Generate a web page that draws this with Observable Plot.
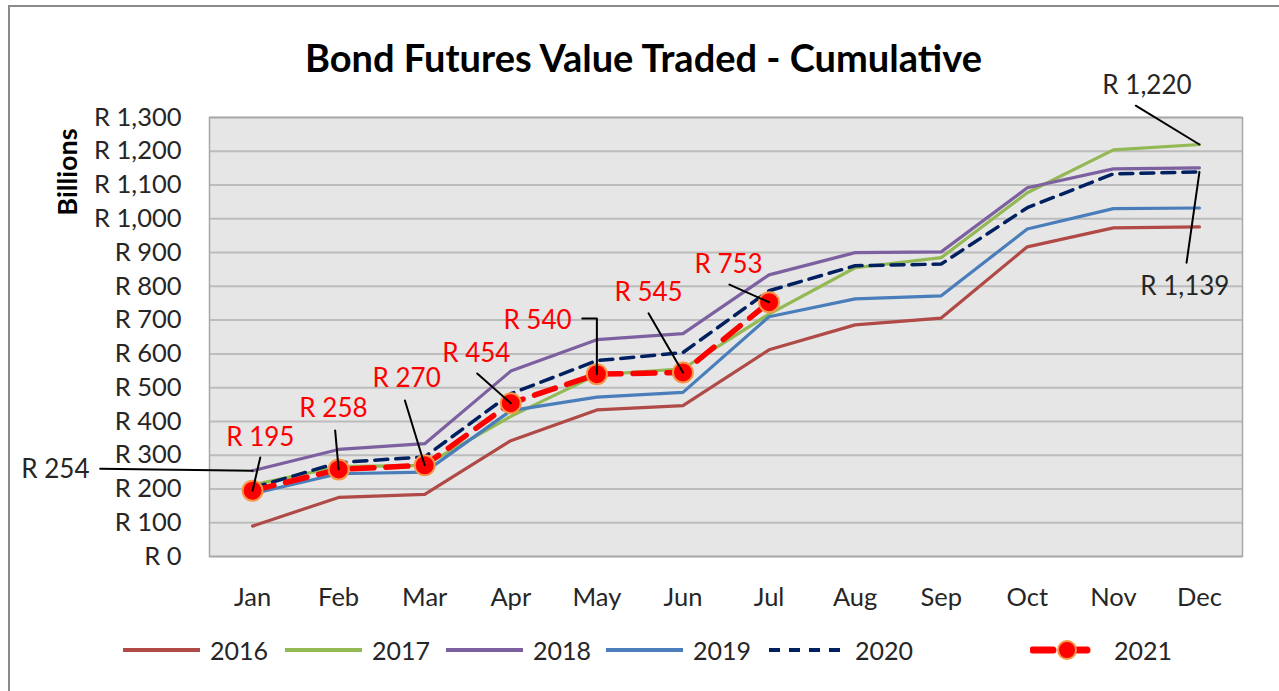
<!DOCTYPE html>
<html>
<head>
<meta charset="utf-8">
<script src="https://cdn.jsdelivr.net/npm/d3@7"></script>
<script src="https://cdn.jsdelivr.net/npm/@observablehq/plot@0.6"></script>
<style>
  html, body { margin: 0; padding: 0; background: #fff; width: 1279px; height: 691px; overflow: hidden; }
  body { position: relative; font-family: Lato, "Liberation Sans", sans-serif; color: #262626; }
  #frame { position: absolute; left: 8px; top: 5px; width: 1300px; height: 720px; border: 2px solid #8a8a8a; box-sizing: border-box; }
  #title { position: absolute; left: 0; width: 1287px; top: 34px; text-align: center; font-weight: 700; font-size: 38px; color: #000; line-height: 46px; }
  #ylab { position: absolute; left: 66px; top: 172px; transform: translate(-50%, -50%) rotate(-90deg); font-weight: 700; font-size: 27px; color: #000; white-space: nowrap; }
  #chart { position: absolute; left: 0; top: 70px; }
  #chart svg { overflow: visible; }
  #legend { position: absolute; left: 0; top: 633px; width: 1279px; height: 34px; }
  .item { position: absolute; top: 0; height: 34px; display: flex; align-items: center; font-size: 25px; color: #262626; }
  .item svg { margin-right: 10px; }
</style>
</head>
<body>
<div id="frame"></div>
<div id="title">Bond Futures Value Traded - Cumulative</div>
<div id="ylab">Billions</div>
<div id="chart"></div>
<div id="legend"></div>
<script>
// ---- data ----
const months = ["Jan","Feb","Mar","Apr","May","Jun","Jul","Aug","Sep","Oct","Nov","Dec"];
const years = ["2016","2017","2018","2019","2020","2021"];
const v2016 = [90, 175, 184, 343, 434, 447, 612, 686, 706, 917, 973, 976];
const v2017 = [212, 266, 270, 415, 538, 556, 718, 855, 885, 1077, 1204, 1220];
const v2018 = [254, 317, 334, 549, 642, 660, 834, 900, 902, 1092, 1148, 1151];
const v2019 = [186, 245, 250, 432, 472, 486, 710, 763, 772, 970, 1030, 1032];
const v2020 = [203, 278, 295, 482, 580, 604, 787, 861, 866, 1033, 1133, 1139];
const v2021 = [195, 258, 270, 454, 540, 545, 753];
const yTicks = [0,100,200,300,400,500,600,700,800,900,1000,1100,1200,1300];
const colors = ["#B04A47", "#93B954", "#7D60A0", "#4A7EBB", "#002060", "#FF0000"];

// annotation labels (data coordinates: month index, value)
const labelText  = ["R 195","R 258","R 270","R 454","R 540","R 545","R 753","R 254","R 1,220","R 1,139"];
const labelX     = [0.09, 0.94, 1.79, 2.60, 3.31, 4.60, 5.53, -2.29, 10.39, 10.83];
const labelV     = [352, 438, 527, 601, 699, 782, 865, 258, 1395, 800];
const labelRed   = [true, true, true, true, true, true, true, false, false, false];
// leader lines: [id, x, value]
const leaders = [
  [0, 0.09, 293], [0, 0, 195],
  [1, 0.96, 373], [1, 1, 258],
  [2, 1.77, 462], [2, 2, 270],
  [3, 2.61, 542], [3, 3, 454],
  [4, 3.83, 705], [4, 4, 705], [4, 4, 540],
  [5, 4.60, 720], [5, 5, 545],
  [6, 5.54, 805], [6, 6, 753],
  [7, -1.77, 260], [7, 0, 254],
  [8, 10.26, 1335], [8, 11, 1220],
  [9, 10.85, 870], [9, 11, 1139]
];

// ---- build tables ----
const series = [v2016, v2017, v2018, v2019, v2020, v2021];
const rows = [];
series.forEach((vals, si) => vals.forEach((v, i) => rows.push({year: years[si], m: i, v})));
const solid = rows.filter(d => ["2016","2017","2018","2019"].includes(d.year));
const r2020 = rows.filter(d => d.year === "2020");
const r2021 = rows.filter(d => d.year === "2021");
const labels = labelText.map((t, i) => ({t, x: labelX[i], v: labelV[i], red: labelRed[i]}));
const leaderRows = leaders.map(([id, x, v]) => ({id, x, v}));
const fmt = d3.format(",");

const chart = Plot.plot({
  width: 1279,
  height: 560,
  marginLeft: 209,
  marginRight: 37,
  marginTop: 47,
  marginBottom: 74,
  style: {fontFamily: "Lato, 'Liberation Sans', sans-serif", fontSize: "25px", color: "#262626", background: "transparent"},
  x: {domain: [-0.5, 11.5], axis: null},
  y: {domain: [0, 1300], axis: null},
  color: {domain: years, range: colors},
  marks: [
    Plot.frame({fill: "#e6e6e6"}),
    Plot.ruleY(yTicks, {stroke: "#bcbcbc", strokeWidth: 2}),
    Plot.frame({stroke: "#a8a8a8", strokeWidth: 1.5}),
    Plot.axisY(yTicks, {tickSize: 0, tickPadding: 28, tickFormat: d => "R " + fmt(d), fontSize: 25.5, fill: "#262626", label: null}),
    Plot.axisX(d3.range(12), {tickSize: 0, tickPadding: 31, tickFormat: i => months[i], fontSize: 25.5, fill: "#262626", label: null}),
    Plot.line(solid, {x: "m", y: "v", z: "year", stroke: "year", strokeWidth: 3.2}),
    Plot.line(r2020, {x: "m", y: "v", stroke: "year", strokeWidth: 3.5, strokeDasharray: "13,8"}),
    Plot.line(r2021, {x: "m", y: "v", stroke: "year", strokeWidth: 5.5, strokeDasharray: "22,12", strokeLinecap: "round"}),
    Plot.dot(r2021, {x: "m", y: "v", r: 10, fill: "year", stroke: "#F79646", strokeWidth: 2}),
    Plot.line(leaderRows, {x: "x", y: "v", z: "id", stroke: "#000", strokeWidth: 2}),
    Plot.text(labels, {x: "x", y: "v", text: "t", fill: d => d.red ? "#FF0000" : "#262626", fontSize: 26})
  ]
});
document.getElementById("chart").appendChild(chart);

// ---- legend ----
const legendLeft = [123, 285, 446, 606, 769, 1030];
const legend = document.getElementById("legend");
years.forEach((y, i) => {
  const div = document.createElement("div");
  div.className = "item";
  div.style.left = legendLeft[i] + "px";
  let sample;
  if (i < 4) {
    sample = `<svg width="77" height="20"><line x1="0" y1="10" x2="77" y2="10" stroke="${colors[i]}" stroke-width="4"/></svg>`;
  } else if (i === 4) {
    sample = `<svg width="76" height="20"><line x1="0" y1="10" x2="76" y2="10" stroke="${colors[i]}" stroke-width="4" stroke-dasharray="11,9"/></svg>`;
  } else {
    sample = `<svg width="74" height="26"><line x1="3" y1="13" x2="71" y2="13" stroke="${colors[i]}" stroke-width="7" stroke-dasharray="20,14" stroke-linecap="round"/><circle cx="37" cy="13" r="9" fill="${colors[i]}" stroke="#F79646" stroke-width="2"/></svg>`;
  }
  div.innerHTML = sample + `<span>${y}</span>`;
  legend.appendChild(div);
});
</script>
</body>
</html>
